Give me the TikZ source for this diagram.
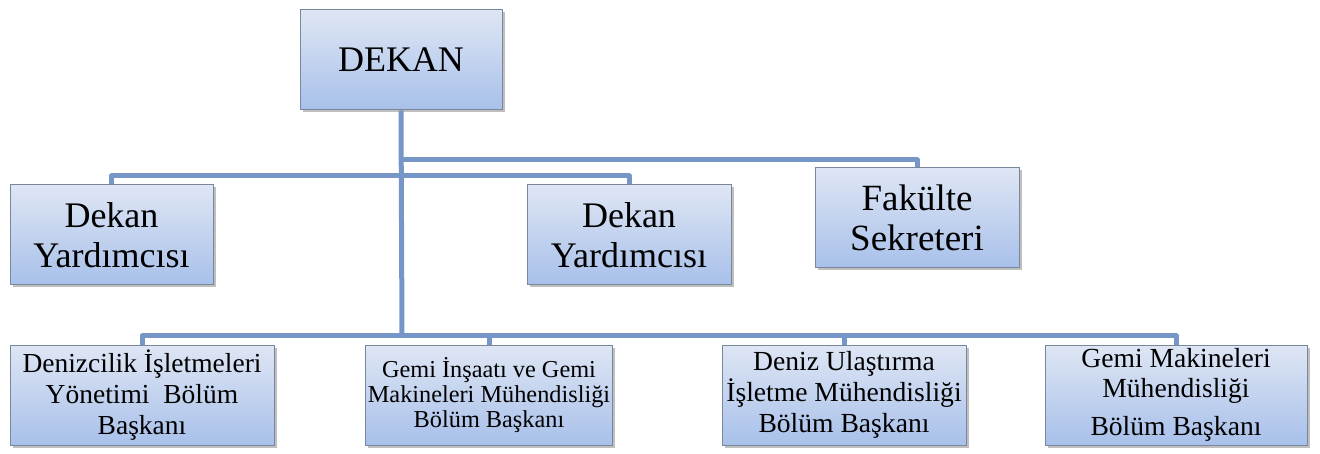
\documentclass[tikz,border=0pt]{standalone}
\usepackage{fontspec}
\setmainfont{Liberation Serif}
\usetikzlibrary{shadows}
\definecolor{conncol}{RGB}{118,150,200}
\definecolor{boxtop}{RGB}{222,230,244}
\definecolor{boxbot}{RGB}{168,192,234}
\definecolor{boxline}{RGB}{120,135,155}
\tikzset{
  orgbox/.style={rectangle, draw=boxline, line width=1pt, top color=boxtop, bottom color=boxbot,
    minimum height=100pt, inner sep=2pt, align=center,
    drop shadow={shadow xshift=2.5pt, shadow yshift=-2.5pt, fill=black, opacity=0.25}},
  conn/.style={draw=conncol, line width=5pt, line join=round}
}
\begin{document}
\begin{tikzpicture}[x=1pt,y=-1pt]
\useasboundingbox (0,0) rectangle (1320,454);
\coordinate (h1) at (402,160);
\coordinate (h2) at (402,176);
\coordinate (h3) at (402,336);
\node[orgbox, minimum width=202pt, font=\fontsize{36}{40}\selectfont] (dekan) at (401,60) {DEKAN};
\node[orgbox, minimum width=203pt, font=\fontsize{36}{40}\selectfont] (dy1) at (111.5,235) {Dekan\\Yardımcısı};
\node[orgbox, minimum width=204pt, font=\fontsize{36}{40}\selectfont] (dy2) at (629,235) {Dekan\\Yardımcısı};
\node[orgbox, minimum width=204pt, font=\fontsize{37}{40}\selectfont] (fs) at (917,218) {Fakülte\\Sekreteri};
\node[orgbox, minimum width=264pt, font=\fontsize{27.5}{31}\selectfont] (b1) at (142,395) {Denizcilik İşletmeleri\\Yönetimi~~Bölüm\\Başkanı};
\node[orgbox, minimum width=246pt, font=\fontsize{24.3}{25}\selectfont] (b2) at (489,395) {Gemi İnşaatı ve Gemi\\Makineleri Mühendisliği\\Bölüm Başkanı};
\node[orgbox, minimum width=244pt, font=\fontsize{27.6}{31}\selectfont] (b3) at (844,395) {Deniz Ulaştırma\\İşletme Mühendisliği\\Bölüm Başkanı};
\node[orgbox, minimum width=262pt, font=\fontsize{27.6}{30}\selectfont] (b4) at (1176,395) {Gemi Makineleri\\Mühendisliği\\[8pt]Bölüm Başkanı};
\draw[conn] (dekan.south) -- (h3);
\draw[conn] (h1) -| (fs.north);
\draw[conn] (dy1.north) |- (h2) -| (dy2.north);
\draw[conn] (b1.north) |- (h3) -| (b4.north);
\draw[conn] (b2.north) -- (b2.north |- h3);
\draw[conn] (b3.north) -- (b3.north |- h3);
\end{tikzpicture}
\end{document}
